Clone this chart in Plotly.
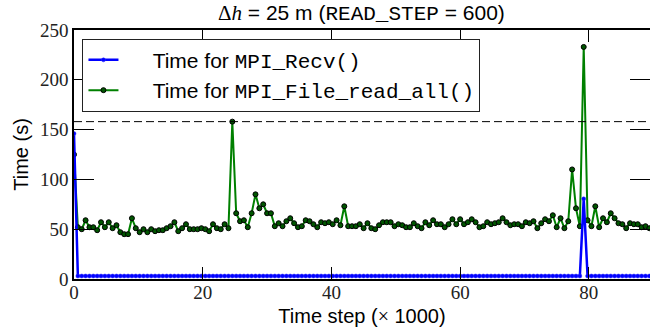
import plotly.graph_objects as go

# ---------------- data ----------------
READ_STEP = 600
n_points = 150
time_step_k = [i * READ_STEP / 1000 for i in range(n_points)]  # time step (x 1000)

recv_time = [
    146, 3, 3, 3, 3, 3, 3, 3, 3, 3, 3, 3, 3, 3, 3,
    3, 3, 3, 3, 3, 3, 3, 3, 3, 3, 3, 3, 3, 3, 3,
    3, 3, 3, 3, 3, 3, 3, 3, 3, 3, 3, 3, 3, 3, 3,
    3, 3, 3, 3, 3, 3, 3, 3, 3, 3, 3, 3, 3, 3, 3,
    3, 3, 3, 3, 3, 3, 3, 3, 3, 3, 3, 3, 3, 3, 3,
    3, 3, 3, 3, 3, 3, 3, 3, 3, 3, 3, 3, 3, 3, 3,
    3, 3, 3, 3, 3, 3, 3, 3, 3, 3, 3, 3, 3, 3, 3,
    3, 3, 3, 3, 3, 3, 3, 3, 3, 3, 3, 3, 3, 3, 3,
    3, 3, 3, 3, 3, 3, 3, 3, 3, 3, 3, 3, 80.5, 3, 3,
    3, 3, 3, 3, 3, 3, 3, 3, 3, 3, 3, 3, 3, 3, 3,
]

read_all_time = [
    125, 52, 50, 59, 52, 52, 49, 57, 52, 57, 51, 54, 47, 45, 45,
    61, 51, 47, 50, 47, 50, 48, 49, 49, 51, 53, 57, 48, 51, 55,
    50, 50, 50, 51, 50, 48, 55, 51, 50, 55, 51, 158, 66, 58, 59,
    52, 66, 85, 71, 75, 66, 66, 53, 56, 53, 58, 61, 56, 52, 53,
    59, 58, 55, 52, 57, 56, 57, 55, 59, 54, 73, 53, 53, 53, 55,
    51, 56, 51, 50, 54, 57, 57, 57, 53, 55, 54, 52, 52, 56, 53,
    51, 57, 54, 59, 55, 55, 52, 55, 60, 55, 60, 55, 57, 60, 57,
    52, 53, 57, 55, 56, 57, 61, 57, 54, 55, 55, 53, 57, 56, 58,
    51, 56, 60, 58, 64, 52, 61, 51, 58, 110, 71, 53, 233, 59, 53,
    73, 52, 61, 57, 66, 61, 56, 55, 51, 56, 55, 55, 52, 53, 51,
]

reference_level = 158
x_ticks = [0, 20, 40, 60, 80]
y_ticks = [0, 50, 100, 150, 200, 250]
x_range = [0, 89.5]
y_range = [0, 250]

MONO = "Liberation Mono"
SANS = "Liberation Sans"
SERIF = "Liberation Serif"
PAD = "&nbsp;" * 5

# ---------------- figure ----------------
fig = go.Figure()

fig.add_trace(go.Scatter(
    x=time_step_k, y=read_all_time, mode="lines+markers",
    name=f"{PAD}Time for <span style='font-family:{MONO}'>MPI_File_read_all()</span>",
    line=dict(color="#008000", width=2),
    marker=dict(size=5, color="#005500", line=dict(color="black", width=1)),
    legendrank=2,
))
fig.add_trace(go.Scatter(
    x=time_step_k, y=recv_time, mode="lines+markers", yaxis="y2",
    name=f"{PAD}Time for <span style='font-family:{MONO}'>MPI_Recv()</span>",
    line=dict(color="#0000ff", width=2.5),
    marker=dict(size=4, color="#0000ff", line=dict(color="#3030ff", width=0.5)),
    legendrank=1,
))

fig.add_hline(y=reference_level, line=dict(color="black", width=1, dash="8px,4px"))

fig.update_layout(
    width=650, height=331,
    margin=dict(l=74, r=0, t=30, b=52),
    paper_bgcolor="white", plot_bgcolor="white",
    font=dict(family=SANS, size=21, color="black"),
    title=dict(
        text=(f"<span style='font-family:{SERIF}'>Δ<i>h</i></span> = 25 m "
              f"(<span style='font-family:{MONO}'>READ_STEP</span> = 600)"),
        x=0.556, xanchor="center", y=1 - 13 / 331, yanchor="middle",
        font=dict(family=SANS, size=21, color="black"),
    ),
    legend=dict(
        x=0.0147, y=0.965, xanchor="left", yanchor="top",
        bordercolor="#222222", borderwidth=1, bgcolor="white",
        font=dict(family=SANS, size=21, color="black"),
        itemwidth=30, tracegroupgap=0,
    ),
    showlegend=True,
)

fig.update_xaxes(
    range=x_range, tickvals=x_ticks, ticktext=[str(v) for v in x_ticks],
    showgrid=False, zeroline=False,
    showline=True, linecolor="black", linewidth=1.5, mirror="ticks",
    ticks="inside", ticklen=12, tickwidth=1, tickcolor="black",
    ticklabelstandoff=-5,
    tickfont=dict(family=SERIF, size=19, color="#222222"),
    title=dict(text=f"Time step (<span style='font-family:{SERIF}'>×</span> 1000)",
               font=dict(family=SANS, size=20, color="black"), standoff=7),
)
fig.update_yaxes(
    range=y_range, tickvals=y_ticks, ticktext=[str(v) for v in y_ticks],
    showgrid=False, zeroline=False,
    showline=True, linecolor="black", linewidth=1.5,
    ticks="inside", ticklen=20, tickwidth=1, tickcolor="black",
    tickfont=dict(family=SERIF, size=19, color="#222222"),
    title=dict(text="Time (s)", font=dict(family=SANS, size=20, color="black"), standoff=6),
)

fig.update_layout(
    yaxis2=dict(
        overlaying="y", side="right", anchor="x", range=y_range,
        tickvals=y_ticks, showticklabels=False, showgrid=False, zeroline=False,
        showline=False, ticks="inside", ticklen=20, tickwidth=1, tickcolor="black",
    )
)

fig.write_html("out.html")
